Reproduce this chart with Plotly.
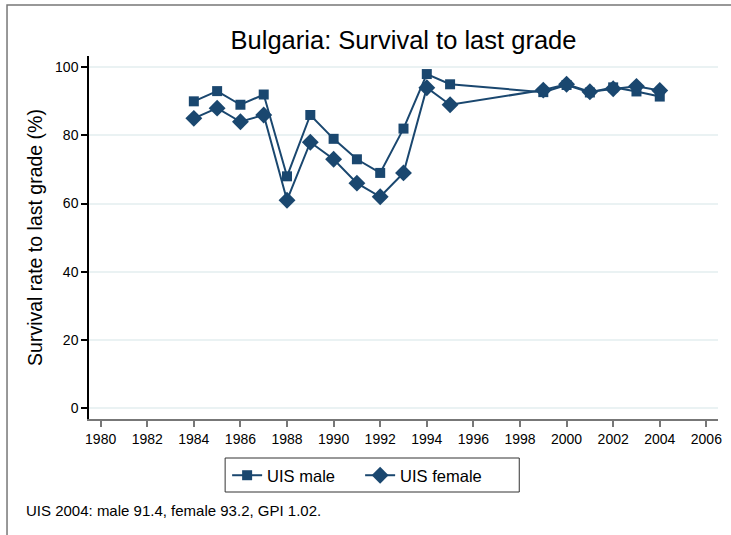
import plotly.graph_objects as go

years_male = [1984, 1985, 1986, 1987, 1988, 1989, 1990, 1991, 1992, 1993, 1994, 1995,
              1999, 2000, 2001, 2002, 2003, 2004]
male = [90, 93, 89, 92, 68, 86, 79, 73, 69, 82, 98, 95,
        92.7, 94.8, 92.6, 94.1, 92.9, 91.4]
years_female = [1984, 1985, 1986, 1987, 1988, 1989, 1990, 1991, 1992, 1993, 1994, 1995,
                1999, 2000, 2001, 2002, 2003, 2004]
female = [85, 88, 84, 86, 61, 78, 73, 66, 62, 69, 94, 89,
          93.3, 95.0, 92.8, 93.7, 94.4, 93.2]
x_ticks = list(range(1980, 2007, 2))
y_ticks = [0, 20, 40, 60, 80, 100]

navy = "#1a476f"
font = "Liberation Sans, Arial, sans-serif"

L, T, W, H = 89, 56, 633, 363


def px_x(p):
    return (p - L) / W


def px_y(p):
    return (T + H - p) / H


fig = go.Figure()
fig.add_trace(go.Scatter(x=years_male, y=male, mode="lines+markers", name="UIS male",
                         line=dict(color=navy, width=2),
                         marker=dict(symbol="square", size=10, color=navy)))
fig.add_trace(go.Scatter(x=years_female, y=female, mode="lines+markers", name="UIS female",
                         line=dict(color=navy, width=2),
                         marker=dict(symbol="diamond", size=13, color=navy)))

fig.update_layout(
    width=731, height=535,
    margin=dict(l=L, r=731 - L - W, t=T, b=535 - T - H),
    paper_bgcolor="white", plot_bgcolor="white",
    font=dict(family=font, color="#000", size=14),
    title=dict(text="Bulgaria: Survival to last grade", x=0.5, xref="paper",
               y=1 - 40 / 535, yanchor="middle", font=dict(size=25.5, color="#000")),
    showlegend=True,
    legend=dict(orientation="h", x=px_x(228), xanchor="left", y=px_y(458), yanchor="top",
                borderwidth=0, bgcolor="rgba(0,0,0,0)",
                font=dict(size=16.5), tracegroupgap=0, entrywidth=88, entrywidthmode="pixels"),
    xaxis=dict(range=[1979.5, 2006.5], tickvals=x_ticks, showgrid=False,
               showline=True, linecolor="#777", linewidth=1.5,
               ticks="outside", ticklen=6, tickcolor="#777", tickwidth=1.5,
               zeroline=False, tickfont=dict(size=14)),
    yaxis=dict(range=[-3.2, 103.3], tickvals=y_ticks, showgrid=True,
               gridcolor="#eaf2f3", gridwidth=1.5,
               showline=True, linecolor="#000", linewidth=1.5,
               ticks="outside", ticklen=6, tickcolor="#000", tickwidth=1.5,
               zeroline=False, tickfont=dict(size=14),
               title=dict(text="Survival rate to last grade (%)", font=dict(size=19.5), standoff=7)),
    annotations=[dict(text="UIS 2004: male 91.4, female 93.2, GPI 1.02.",
                      xref="paper", yref="paper", x=px_x(24), y=px_y(510),
                      xanchor="left", yanchor="middle", showarrow=False,
                      font=dict(size=15, color="#000"))],
    shapes=[
        dict(type="rect", xref="paper", yref="paper",
             x0=px_x(6.5), x1=1.2, y0=-0.6, y1=px_y(5),
             line=dict(color="#777", width=1.5), fillcolor="rgba(0,0,0,0)", layer="below"),
        dict(type="rect", xref="paper", yref="paper",
             x0=px_x(226), x1=px_x(522), y0=px_y(492), y1=px_y(458),
             line=dict(color="#333", width=1), fillcolor="white", layer="below"),
    ],
)

fig.write_html("out.html", config={"displayModeBar": False},
               post_script="document.body.style.margin='0px';")
